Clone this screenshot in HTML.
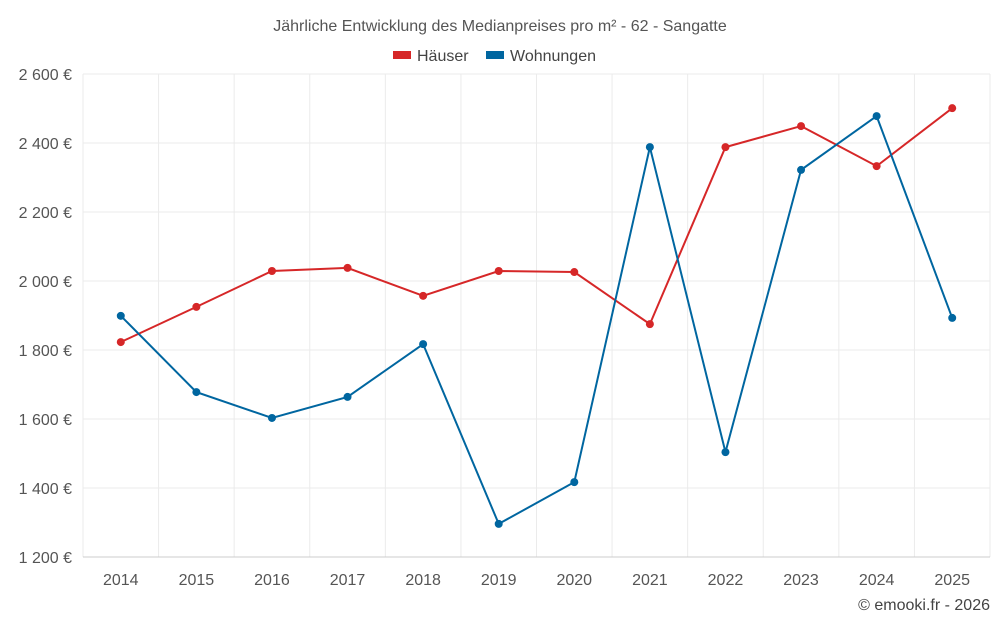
<!DOCTYPE html>
<html><head><meta charset="utf-8"><style>
body{margin:0;background:#fff;width:1000px;height:625px;overflow:hidden;font-family:"Liberation Sans",sans-serif}
</style></head><body>
<svg id="chart" width="1000" height="625" xmlns="http://www.w3.org/2000/svg">
<text x="500" y="31" text-anchor="middle" font-size="16" fill="#555">Jährliche Entwicklung des Medianpreises pro m² - 62 - Sangatte</text>
<g>
<rect x="393" y="51" width="18" height="8" fill="#d62728"/>
<text x="417" y="61" font-size="16" fill="#444">Häuser</text>
<rect x="486" y="51" width="18" height="8" fill="#0066a0"/>
<text x="510" y="61" font-size="16" fill="#444">Wohnungen</text>
</g>
<g id="grid"></g><g id="axes"></g><g id="series"></g>
<text x="990" y="610" text-anchor="end" font-size="16" fill="#444">© emooki.fr - 2026</text>
</svg>
<script>
const years=[2014,2015,2016,2017,2018,2019,2020,2021,2022,2023,2024,2025];
const haeuser=[1823,1925,2029,2038,1957,2029,2026,1875,2388,2449,2333,2501];
const wohnungen=[1899,1678,1603,1664,1817,1296,1417,2388,1504,2322,2478,1893];
const yTicks=[1200,1400,1600,1800,2000,2200,2400,2600];
const yTickLabels=["1 200 €","1 400 €","1 600 €","1 800 €","2 000 €","2 200 €","2 400 €","2 600 €"];
const L=83,R=990,T=74,B=557,yMin=1200,yMax=2600;
const bw=(R-L)/years.length;
const x=i=>L+bw*(i+0.5);
const y=v=>B-(v-yMin)/(yMax-yMin)*(B-T);
const NS="http://www.w3.org/2000/svg";
function mk(tag,attrs,parent){const e=document.createElementNS(NS,tag);for(const k in attrs)e.setAttribute(k,attrs[k]);parent.appendChild(e);return e;}
const grid=document.getElementById('grid'),axes=document.getElementById('axes'),series=document.getElementById('series');
yTicks.forEach((t,i)=>{
 const l=mk('line',{x1:L,x2:R,y1:y(t),y2:y(t),stroke:'#ebebeb'},grid);
 
 
 const tx=mk('text',{x:72,y:y(t)+6,'text-anchor':'end','font-size':16,fill:'#555'},axes);
 tx.textContent=yTickLabels[i];
 
 
});
for(let i=0;i<=years.length;i++){
 const l=mk('line',{x1:L+bw*i,x2:L+bw*i,y1:T,y2:B,stroke:'#ebebeb'},grid);
 
 
}
const ax=mk('line',{x1:L,x2:R,y1:B,y2:B,stroke:'#ccc'},axes);


years.forEach((yr,i)=>{
 const tx=mk('text',{x:x(i),y:585,'text-anchor':'middle','font-size':16,fill:'#555'},axes);
 tx.textContent=yr;
 
 
});
function draw(vals,color,name){
 const p=mk('polyline',{points:vals.map((v,i)=>x(i)+','+y(v)).join(' '),fill:'none',stroke:color,'stroke-width':2},series);
 
 
 vals.forEach((v,i)=>{
  const c=mk('circle',{cx:x(i),cy:y(v),r:4,fill:color},series);
  
  
 });
}
draw(haeuser,'#d62728','haeuser');
draw(wohnungen,'#0066a0','wohnungen');
</script>
</body></html>
